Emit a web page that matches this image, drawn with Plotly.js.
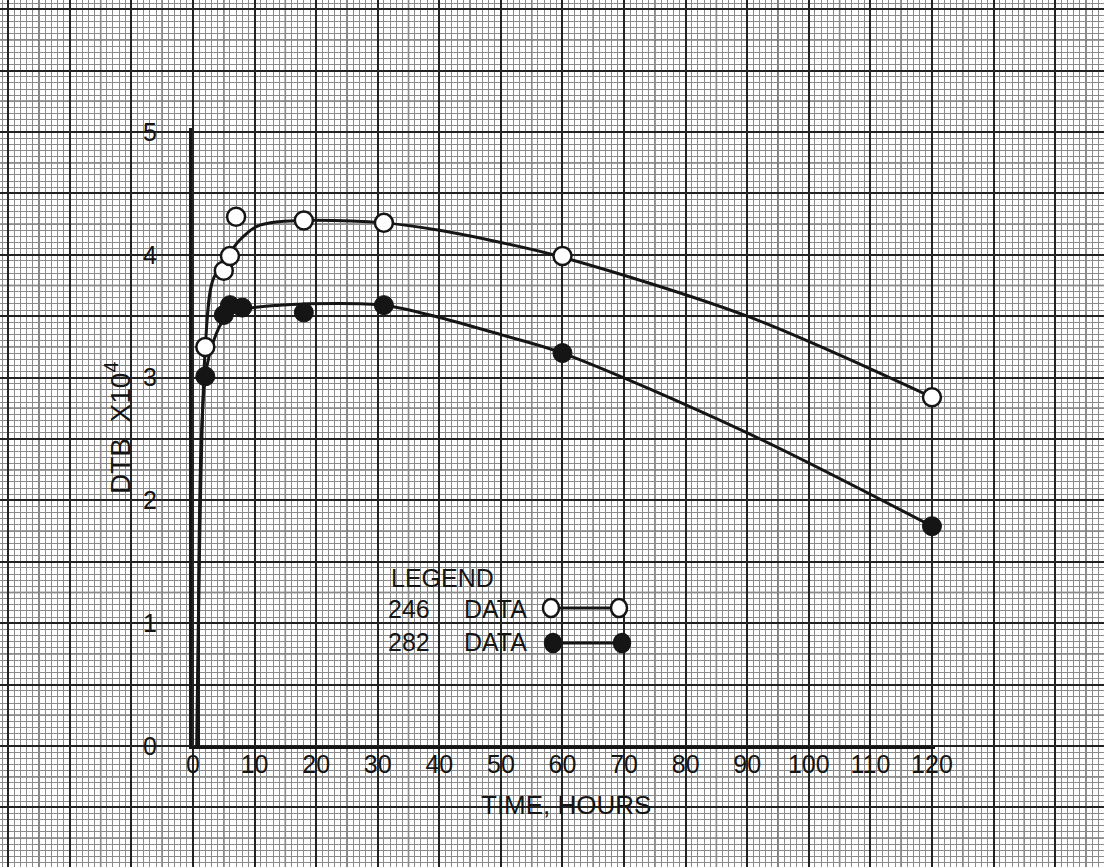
<!DOCTYPE html>
<html>
<head>
<meta charset="utf-8">
<script src="https://cdn.plot.ly/plotly-3.0.1.min.js"></script>
<style>html,body{margin:0;padding:0;background:#fff;}#chart{width:1104px;height:867px;}</style>
</head>
<body>
<div id="chart"></div>
<script>
// ---- data ----
const timeTicks = [0, 10, 20, 30, 40, 50, 60, 70, 80, 90, 100, 110, 120];
const timeTickText = ["0", "10", "20", "30", "40", "50", "60", "70", "80", "90", "100", "110", "120"];
const dtbTicks = [0, 1, 2, 3, 4, 5];
const dtbTickText = ["0", "1", "2", "3", "4", "5"];

// 246 data (open circles)
const hours246 = [2, 5, 6, 7, 18, 31, 60, 120];
const dtb246   = [3.25, 3.87, 3.99, 4.31, 4.28, 4.26, 3.99, 2.84];
// 282 data (filled circles)
const hours282 = [2, 5, 6, 8, 18, 31, 60, 120];
const dtb282   = [3.01, 3.51, 3.59, 3.57, 3.53, 3.59, 3.20, 1.79];

// hand-drawn fitted curves
const curve246Hours = [0.6, 2, 3.2, 5.2, 7.6, 10.3, 14, 18, 31, 40, 50, 60, 90, 120];
const curve246Dtb   = [0, 3.25, 3.79, 3.96, 4.12, 4.23, 4.27, 4.28, 4.26, 4.20, 4.10, 3.98, 3.50, 2.84];
const curve282Hours = [0.9, 2, 3.8, 5.5, 8.7, 14, 18, 31, 40, 50, 60, 90, 120];
const curve282Dtb   = [0, 3.01, 3.36, 3.50, 3.56, 3.59, 3.60, 3.59, 3.49, 3.35, 3.20, 2.55, 1.79];

const legendLabels = ["246", "282"];

// ---- layout geometry ----
const W = 1104, H = 867;
const X0 = 193, XS = 6.158;   // px of t=0, px per hour
const Y0 = 746, YS = 122.8;   // px of DTB=0, px per unit
const px = v => v / W;
const py = v => 1 - v / H;
const ink = '#151515';
const FONT = 'Liberation Sans, Arial, sans-serif';

const paperX = [-X0 / XS, (W - X0) / XS];
const paperY = [(Y0 - H) / YS, Y0 / YS];

// medium graph-paper lines (every 5 h / 0.25 unit)
const shapes = [];
for (let v = Math.ceil(paperX[0] / 5) * 5; v <= paperX[1]; v += 5) {
  if (Math.abs(v % 10) > 1e-6) shapes.push({type:'line', xref:'x', yref:'paper', x0:v, x1:v, y0:0, y1:1, layer:'between', line:{color:'#444', width:1.4}});
}
for (let k = Math.ceil(paperY[0] / 0.25); k * 0.25 <= paperY[1]; k++) {
  if (k % 2 !== 0) { const v = k * 0.25; shapes.push({type:'line', xref:'paper', yref:'y', x0:0, x1:1, y0:v, y1:v, layer:'between', line:{color:'#444', width:1.4}}); }
}

// legend samples
function legendSample(yPix, filled, xa, xb) {
  shapes.push({type:'line', xref:'paper', yref:'paper', x0:px(xa), x1:px(xb), y0:py(yPix), y1:py(yPix), line:{color:ink, width:3}});
  [xa, xb].forEach(xc => shapes.push({type:'circle', xref:'paper', yref:'paper', xsizemode:'pixel', ysizemode:'pixel',
    xanchor:px(xc), yanchor:py(yPix), x0:-8, x1:8, y0:-9, y1:9,
    fillcolor: filled ? ink : '#ffffff', line:{color:ink, width:2.5}}));
}
legendSample(608, false, 551, 619);
legendSample(643, true, 553, 622);

function note(text, x, y, xanchor, size, extra) {
  return Object.assign({text:text, x:px(x), y:py(y), xref:'paper', yref:'paper', xanchor:xanchor, yanchor:'middle',
    showarrow:false, font:{family:FONT, size:size, color:ink}}, extra || {});
}
const annotations = [
  note('TIME, HOURS', 566, 805, 'center', 26),
  note('DTB  X10<sup>4</sup>', 118, 428, 'center', 28, {textangle:-90}),
  note('LEGEND', 389, 578, 'left', 25),
  note(legendLabels[0], 386, 609, 'left', 25),
  note('DATA', 462, 609, 'left', 25),
  note(legendLabels[1], 386, 642, 'left', 25),
  note('DATA', 462, 642, 'left', 25)
];

const traces = [
  {x:[], y:[], xaxis:'x', yaxis:'y', mode:'markers', showlegend:false, hoverinfo:'skip'},
  {x:curve246Hours, y:curve246Dtb, xaxis:'x2', yaxis:'y2', mode:'lines', line:{color:ink, width:3, shape:'spline', smoothing:0.9}, showlegend:false, hoverinfo:'skip'},
  {x:curve282Hours, y:curve282Dtb, xaxis:'x2', yaxis:'y2', mode:'lines', line:{color:ink, width:3, shape:'spline', smoothing:0.9}, showlegend:false, hoverinfo:'skip'},
  {x:hours246, y:dtb246, xaxis:'x2', yaxis:'y2', mode:'markers', name:'246 DATA', cliponaxis:false,
   marker:{symbol:'circle', size:18, color:'#ffffff', line:{color:ink, width:2.5}}, showlegend:false},
  {x:hours282, y:dtb282, xaxis:'x2', yaxis:'y2', mode:'markers', name:'282 DATA', cliponaxis:false,
   marker:{symbol:'circle', size:19, color:ink, line:{color:ink, width:1}}, showlegend:false}
];

const layout = {
  width: W, height: H,
  margin: {l:0, r:0, t:0, b:0, pad:0},
  paper_bgcolor: '#ffffff',
  plot_bgcolor: 'rgba(0,0,0,0)',
  showlegend: false,
  xaxis: {domain:[0,1], anchor:'y', range:paperX, tick0:0, dtick:10, showgrid:true, gridcolor:'#222', gridwidth:2,
          minor:{tick0:0, dtick:1, showgrid:true, gridcolor:'#8a8a8a', gridwidth:1},
          showticklabels:false, ticks:'', zeroline:false, showline:false, fixedrange:true},
  yaxis: {domain:[0,1], anchor:'x', range:paperY, tick0:0, dtick:0.5, showgrid:true, gridcolor:'#222', gridwidth:2,
          minor:{tick0:0, dtick:0.05, showgrid:true, gridcolor:'#8a8a8a', gridwidth:1},
          showticklabels:false, ticks:'', zeroline:false, showline:false, fixedrange:true},
  xaxis2: {domain:[px(192), px(935)], anchor:'y2', range:[(192 - X0) / XS, (935 - X0) / XS],
           showgrid:false, zeroline:false, showline:true, linecolor:ink, linewidth:3,
           tickmode:'array', tickvals:timeTicks, ticktext:timeTickText, ticks:'', ticklabelstandoff:-6,
           tickfont:{family:FONT, size:25, color:ink}, fixedrange:true},
  yaxis2: {domain:[1 - Y0 / H, 1 - 128 / H], anchor:'x2', range:[0, (Y0 - 128) / YS],
           showgrid:false, zeroline:false, showline:true, linecolor:ink, linewidth:3,
           tickmode:'array', tickvals:dtbTicks, ticktext:dtbTickText, ticks:'outside', ticklen:27, tickcolor:'rgba(0,0,0,0)',
           tickfont:{family:FONT, size:25, color:ink}, fixedrange:true},
  shapes: shapes,
  annotations: annotations
};

Plotly.newPlot('chart', traces, layout, {staticPlot:true, displayModeBar:false});
</script>
</body>
</html>
